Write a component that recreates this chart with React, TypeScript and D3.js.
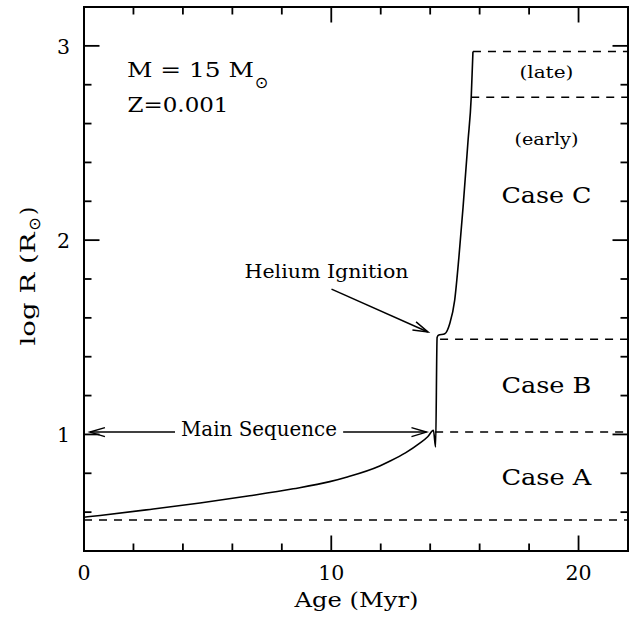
import React from "react";
import * as d3 from "d3";

// ---- data ----
const AGE_DOMAIN = [0, 22];
const LOGR_DOMAIN = [0.4, 3.2];
const AGE_MAJOR_TICKS = [0, 10, 20];
const AGE_MINOR_TICKS = [2, 4, 6, 8, 12, 14, 16, 18];
const LOGR_MAJOR_TICKS = [1, 2, 3];
const LOGR_MINOR_TICKS = [0.6, 0.8, 1.2, 1.4, 1.6, 1.8, 2.2, 2.4, 2.6, 2.8];

// evolutionary track (Age in Myr, log R in R_sun)
const TRACK_AGE = [0, 0.65, 2.67, 4.69, 6.7, 8.46, 9.94, 10.61, 11.96, 12.36, 13.0, 13.58, 13.9, 14.13, 14.22, 14.28, 14.33, 14.59, 14.79, 14.99, 15.16, 15.33, 15.53, 15.66, 15.73];
const TRACK_LOGR = [0.574, 0.583, 0.614, 0.647, 0.684, 0.72, 0.757, 0.78, 0.838, 0.862, 0.905, 0.955, 0.988, 1.021, 0.935, 1.499, 1.51, 1.518, 1.57, 1.69, 1.91, 2.17, 2.51, 2.736, 2.971];

// dashed case boundaries
const BOUNDARY_LOGR = [0.56, 1.012, 1.49, 2.736, 2.971];
const BOUNDARY_START_AGE = [0, 14.2, 14.4, 15.66, 15.73];

// annotation arrows
const MS_ARROW_AGES = [0.24, 3.68, 10.48, 13.85]; // tip, line end, line start, tip
const MS_ARROW_LOGR = 1.012;
const HE_ARROW_AGES = [10.01, 13.91]; // tail, tip
const HE_ARROW_LOGR = [1.748, 1.527];

// case labels
const CASE_LABELS = ["Case A", "Case B", "Case C", "(early)", "(late)"];
const CASE_LABEL_LOGR = [0.74, 1.212, 2.193, 2.49, 2.834];

const W = 641;
const H = 622;
const FONT = "'DejaVu Serif', 'Liberation Serif', serif";

function arrowHead(tx: number, ty: number, fx: number, fy: number, L = 15, Wd = 4.5) {
  const dx = tx - fx;
  const dy = ty - fy;
  const len = Math.hypot(dx, dy);
  const ux = dx / len;
  const uy = dy / len;
  const nx = -uy;
  const ny = ux;
  const bx = tx - L * ux;
  const by = ty - L * uy;
  return `M${bx + Wd * nx},${by + Wd * ny}L${tx},${ty}L${bx - Wd * nx},${by - Wd * ny}`;
}

export default function App() {
  const x = d3.scaleLinear().domain(AGE_DOMAIN).range([84, 628]);
  const y = d3.scaleLinear().domain(LOGR_DOMAIN).range([551, 7]);
  const [x0, x1] = x.range();
  const [y0, y1] = y.range();

  const track = d3
    .line<number>()
    .x((_, i) => x(TRACK_AGE[i]))
    .y((d) => y(d))
    .curve(d3.curveMonotoneX)(TRACK_LOGR) as string;

  const majorLen = 15.5;
  const minorLen = 7.5;

  const msY = y(MS_ARROW_LOGR);
  const msTipL = x(MS_ARROW_AGES[0]);
  const msEndL = x(MS_ARROW_AGES[1]);
  const msStartR = x(MS_ARROW_AGES[2]);
  const msTipR = x(MS_ARROW_AGES[3]);

  const heX0 = x(HE_ARROW_AGES[0]);
  const heY0 = y(HE_ARROW_LOGR[0]);
  const heX1 = x(HE_ARROW_AGES[1]);
  const heY1 = y(HE_ARROW_LOGR[1]);

  const labelX = x(18.7);

  return (
    <svg
      width={W}
      height={H}
      style={{ position: "fixed", left: 0, top: 0, background: "#fff" }}
      fontFamily={FONT}
    >
      <rect width={W} height={H} fill="#fff" />

      {/* dashed boundaries */}
      {BOUNDARY_LOGR.map((v, i) => (
        <line
          key={"b" + i}
          x1={x(BOUNDARY_START_AGE[i])}
          x2={x1}
          y1={y(v)}
          y2={y(v)}
          stroke="#000"
          strokeWidth={1.5}
          strokeDasharray="8 7"
        />
      ))}

      {/* track */}
      <path d={track} fill="none" stroke="#000" strokeWidth={1.6} strokeLinejoin="round" />

      {/* ticks */}
      <g stroke="#000" strokeWidth={1.8}>
        {AGE_MAJOR_TICKS.concat(AGE_MINOR_TICKS).map((t) => {
          const len = AGE_MAJOR_TICKS.includes(t) ? majorLen : minorLen;
          return (
            <g key={"xt" + t}>
              <line x1={x(t)} x2={x(t)} y1={y0} y2={y0 - len} />
              <line x1={x(t)} x2={x(t)} y1={y1} y2={y1 + len} />
            </g>
          );
        })}
        {LOGR_MAJOR_TICKS.concat(LOGR_MINOR_TICKS).map((t) => {
          const len = LOGR_MAJOR_TICKS.includes(t) ? majorLen : minorLen;
          return (
            <g key={"yt" + t}>
              <line x1={x0} x2={x0 + len} y1={y(t)} y2={y(t)} />
              <line x1={x1} x2={x1 - len} y1={y(t)} y2={y(t)} />
            </g>
          );
        })}
      </g>

      {/* frame */}
      <rect x={x0} y={y1} width={x1 - x0} height={y0 - y1} fill="none" stroke="#000" strokeWidth={2} />

      {/* tick labels */}
      <g fontSize={20.5} fill="#000">
        {AGE_MAJOR_TICKS.map((t) => (
          <text key={"xl" + t} x={x(t)} y={y0 + 29} textAnchor="middle">
            {t}
          </text>
        ))}
        {LOGR_MAJOR_TICKS.map((t) => (
          <text key={"yl" + t} x={70} y={y(t) + 8} textAnchor="end">
            {t}
          </text>
        ))}
      </g>

      {/* axis titles */}
      <text x={294.5} y={606.5} fontSize={21} textLength={124} lengthAdjust="spacingAndGlyphs">
        Age (Myr)
      </text>
      <g transform="translate(35,0) rotate(-90)">
        <text x={-345.5} y={0} fontSize={21} textLength={113} lengthAdjust="spacingAndGlyphs">
          log R (R
        </text>
        <text x={-224} y={5} fontSize={16} textAnchor="middle" fontFamily="'DejaVu Sans', sans-serif">
          ⊙
        </text>
        <text x={-215} y={0} fontSize={21}>
          )
        </text>
      </g>

      {/* header annotations */}
      <text x={127} y={77} fontSize={20} textLength={127} lengthAdjust="spacingAndGlyphs">
        M = 15 M
      </text>
      <text x={261.5} y={87.5} fontSize={16} textAnchor="middle" fontFamily="'DejaVu Sans', sans-serif">
        ⊙
      </text>
      <text x={127.5} y={112} fontSize={20} textLength={101} lengthAdjust="spacingAndGlyphs">
        Z=0.001
      </text>

      {/* Helium ignition arrow */}
      <text x={244.5} y={278} fontSize={19} textLength={164} lengthAdjust="spacingAndGlyphs">
        Helium Ignition
      </text>
      <g stroke="#000" strokeWidth={1.5} fill="none">
        <line x1={heX0} y1={heY0} x2={heX1} y2={heY1} />
        <path d={arrowHead(heX1, heY1, heX0, heY0)} />
      </g>

      {/* Main sequence arrow */}
      <g stroke="#000" strokeWidth={1.5} fill="none">
        <line x1={msTipL} x2={msEndL} y1={msY} y2={msY} />
        <path d={arrowHead(msTipL, msY, msEndL, msY)} />
        <line x1={msStartR} x2={msTipR} y1={msY} y2={msY} />
        <path d={arrowHead(msTipR, msY, msStartR, msY)} />
      </g>
      <text x={181} y={436} fontSize={19.5} textLength={156} lengthAdjust="spacingAndGlyphs">
        Main Sequence
      </text>

      {/* case labels */}
      {CASE_LABELS.map((t, i) => {
        const small = t.startsWith("(");
        const len = t === "(early)" ? 64 : t === "(late)" ? 54 : 90;
        return (
          <text
            key={t}
            x={labelX - len / 2}
            y={y(CASE_LABEL_LOGR[i])}
            fontSize={small ? 17.5 : 22}
            textLength={len}
            lengthAdjust="spacingAndGlyphs"
          >
            {t}
          </text>
        );
      })}
    </svg>
  );
}
